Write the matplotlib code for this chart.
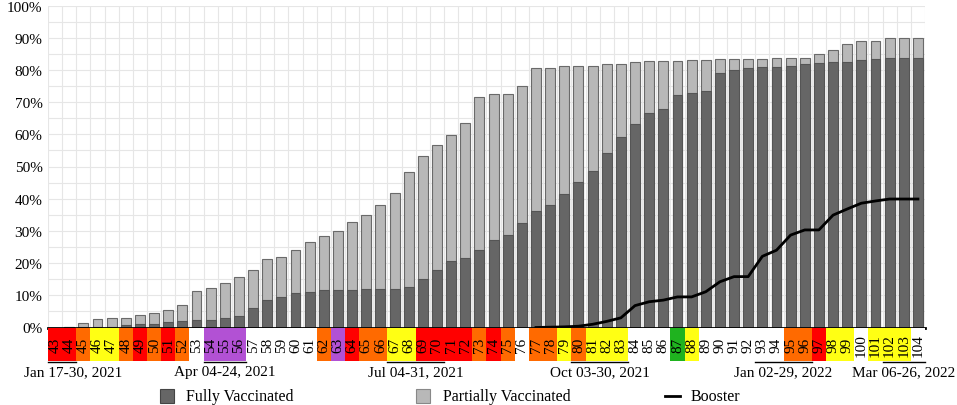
import matplotlib
matplotlib.use("Agg")
import matplotlib.pyplot as plt
from matplotlib.patches import Rectangle
from matplotlib.lines import Line2D
import numpy as np

plt.rcParams['font.family'] = ['Liberation Serif', 'DejaVu Serif']

# week numbers and vaccination coverage (%)
weeks = list(range(43, 105))
total_vacc = [0.0, 0.2, 1.5, 2.6, 3.1, 3.1, 3.8, 4.6, 5.3, 6.9,
              11.3, 12.3, 13.9, 15.6, 17.8, 21.4, 21.8, 24.1, 26.6, 28.4,
              29.9, 32.7, 35.0, 38.0, 41.7, 48.2, 53.4, 56.8, 59.8, 63.5,
              71.7, 72.5, 72.5, 75.1, 80.5, 80.5, 81.3, 81.3, 81.3, 81.9,
              81.9, 82.5, 82.8, 82.9, 82.9, 83.1, 83.2, 83.4, 83.4, 83.4,
              83.4, 83.6, 83.6, 83.6, 85.0, 86.3, 88.1, 88.9, 89.1, 90.0,
              90.0, 90.0]
fully_vacc = [0.0, 0.1, 0.1, 0.1, 0.2, 0.7, 1.0, 1.2, 1.8, 2.1,
              2.2, 2.4, 2.9, 3.7, 6.1, 8.4, 9.5, 10.6, 10.9, 11.6,
              11.6, 11.8, 11.9, 11.9, 11.9, 12.7, 15.2, 17.8, 20.8, 21.7,
              24.0, 27.2, 28.8, 32.3, 36.2, 38.1, 41.5, 45.3, 48.7, 54.1,
              59.1, 63.3, 66.5, 67.9, 72.1, 72.8, 73.4, 79.1, 80.1, 80.5,
              81.0, 81.0, 81.3, 81.7, 82.1, 82.4, 82.4, 83.1, 83.4, 83.6,
              83.6, 83.6]
booster_weeks = list(range(77, 105))
booster = [0.0, 0.1, 0.2, 0.4, 1.0, 1.9, 3.0, 6.8, 8.0, 8.5,
           9.5, 9.5, 11.1, 14.2, 15.8, 15.8, 22.1, 24.0, 28.7, 30.3,
           30.3, 34.9, 36.8, 38.6, 39.3, 39.9, 39.9, 39.9]

# colour code of each week cell
week_codes = ['R', 'R', 'O', 'Y', 'Y', 'O', 'R', 'O', 'R', 'O',
              'W', 'P', 'P', 'P', 'W', 'W', 'W', 'W', 'W', 'O',
              'P', 'R', 'O', 'O', 'Y', 'Y', 'R', 'R', 'R', 'R',
              'O', 'R', 'O', 'W', 'O', 'O', 'Y', 'O', 'Y', 'Y',
              'Y', 'W', 'W', 'W', 'G', 'Y', 'W', 'W', 'W', 'W',
              'W', 'W', 'O', 'O', 'R', 'Y', 'Y', 'W', 'Y', 'Y',
              'Y', 'W']
code_colors = {'R': '#ff0000', 'O': '#ff6a00', 'Y': '#ffff14',
               'P': '#b251d4', 'G': '#1fb31f', 'W': '#ffffff'}

# date ranges under the week cells
date_labels = ['Jan 17-30, 2021', 'Apr 04-24, 2021', 'Jul 04-31, 2021',
               'Oct 03-30, 2021', 'Jan 02-29, 2022', 'Mar 06-26, 2022']
date_start = [43, 54, 67, 80, 93, 102]
date_end = [44, 56, 70, 83, 96, 104]

W, H = 957, 406
fig = plt.figure(figsize=(W / 100, H / 100), dpi=100)

# main bar axes
ax = fig.add_axes([48 / W, (H - 328.5) / H, 877 / W, 322 / H])
x = np.array(weeks)
ax.bar(x, total_vacc, width=0.7, color='#b8b8b8', edgecolor='#6a6a6a',
       linewidth=0.8, zorder=2)
ax.bar(x, fully_vacc, width=0.7, color='#666666', edgecolor='#555555',
       linewidth=0.8, zorder=3)
ax.plot(booster_weeks, booster, color='black', linewidth=2, zorder=4)

ax.set_xlim(42.5, 104.5)
ax.set_ylim(0, 100)
ax.set_yticks(range(0, 101, 10))
ax.set_yticklabels([f"{v}%" for v in range(0, 101, 10)], fontsize=11)
ax.set_yticks(range(5, 100, 10), minor=True)
ax.set_xticks(np.arange(42.5, 105, 1))
ax.tick_params(axis='both', which='both', length=0)
ax.tick_params(axis='y', pad=4)
ax.set_xticklabels([])
ax.grid(True, which='both', color='#e6e6e6', linewidth=0.8, zorder=0)
ax.set_axisbelow(True)
for s in ['top', 'right', 'left']:
    ax.spines[s].set_visible(False)
ax.spines['bottom'].set_linewidth(2)
ax.spines['bottom'].set_zorder(5)

# week cells
cax = fig.add_axes([48 / W, (H - 362) / H, 877 / W, 33 / H])
cax.set_xlim(42.5, 104.5)
cax.set_ylim(0, 1)
cax.axis('off')
for w, c in zip(weeks, week_codes):
    cax.add_patch(Rectangle((w - 0.5, 0), 1, 1, facecolor=code_colors[c],
                            edgecolor='none'))
    cax.text(w, 0.5, str(w), rotation=90, ha='center', va='center',
             fontsize=11)

# date ranges
for lab, s, e in zip(date_labels, date_start, date_end):
    cax.plot([s - 0.5, e + 0.5], [-0.04, -0.04], color='black',
             linewidth=1, clip_on=False)
    xc = (s + e) / 2
    if s == 43:
        xc = 44.27
    cax.text(xc, -0.32, lab, ha='center', va='center', fontsize=11,
             clip_on=False)

# legend drawn by hand
ly = (H - 397) / H
fig.patches.append(Rectangle((160 / W, ly - 7 / H), 14 / W, 14 / H,
                             facecolor='#666666', edgecolor='#444444',
                             linewidth=0.8, transform=fig.transFigure))
fig.text(186 / W, ly, 'Fully Vaccinated', ha='left', va='center', fontsize=11.5)
fig.patches.append(Rectangle((416 / W, ly - 7 / H), 14 / W, 14 / H,
                             facecolor='#b8b8b8', edgecolor='#888888',
                             linewidth=0.8, transform=fig.transFigure))
fig.text(443 / W, ly, 'Partially Vaccinated', ha='left', va='center', fontsize=11.5)
fig.lines.append(Line2D([665 / W, 680 / W], [ly, ly], color='black',
                        linewidth=2, transform=fig.transFigure))
fig.text(691 / W, ly, 'Booster', ha='left', va='center', fontsize=11.5)

fig.savefig('out.png', dpi=100)
